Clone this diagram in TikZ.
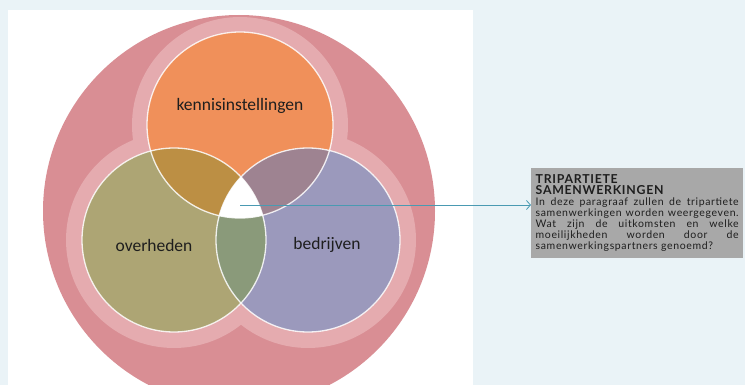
\documentclass[tikz,border=0pt]{standalone}
\usepackage{fontspec}
\setmainfont{Carlito}
\newfontfamily\boxfont[LetterSpace=6]{Lato}
\newfontfamily\titlefont[LetterSpace=6]{Lato}
\usetikzlibrary{arrows.meta}
\definecolor{bgc}{HTML}{EAF3F7}
\definecolor{bigred}{HTML}{D98E94}
\definecolor{halo}{HTML}{E5ABAF}
\definecolor{orangec}{HTML}{F0905A}
\definecolor{olivec}{HTML}{ADA574}
\definecolor{bluec}{HTML}{9B99BC}
\definecolor{ko}{HTML}{BC8F44}
\definecolor{kb}{HTML}{9E8391}
\definecolor{ob}{HTML}{8A9A7A}
\definecolor{arrowc}{HTML}{4A9AB2}
\definecolor{boxc}{HTML}{A8A8A8}
\definecolor{txt}{HTML}{1E1E1E}
\tikzset{
  label/.style={text=txt, font=\fontsize{17.5}{20}\selectfont},
  rim/.style={draw=white, line width=1.3pt, opacity=0.85},
  infobox/.style={fill=boxc, text=txt, anchor=north west, text width=203pt,
    align=justify, inner xsep=4.5pt, inner ysep=4.5pt, minimum height=90pt,
    font=\boxfont\fontsize{10.5}{11}\selectfont},
  link/.style={draw=arrowc, line width=0.8pt, -{Straight Barb[length=4pt,width=9pt]}}
}
\begin{document}
\begin{tikzpicture}[x=1pt,y=-1pt]
\useasboundingbox (0,0) rectangle (745,385);
\fill[bgc] (0,0) rectangle (745,385);
\fill[white] (8,10) rectangle (473,385);
\coordinate (K) at (240,125);
\coordinate (O) at (174,240);
\coordinate (B) at (308,240);
\begin{scope}
  \clip (8,10) rectangle (473,385);
  \fill[bigred] (239,211) circle (196pt);
  \fill[halo] (K) circle (108pt);
  \fill[halo] (O) circle (108pt);
  \fill[halo] (B) circle (108pt);
\end{scope}
\fill[orangec] (K) circle (93pt);
\fill[olivec] (O) circle (92pt);
\fill[bluec] (B) circle (92pt);
\begin{scope}
  \clip (K) circle (93pt);
  \fill[ko] (O) circle (92pt);
  \fill[kb] (B) circle (92pt);
\end{scope}
\begin{scope}
  \clip (O) circle (92pt);
  \fill[ob] (B) circle (92pt);
\end{scope}
\begin{scope}
  \clip (K) circle (93pt);
  \clip (O) circle (92pt);
  \fill[white] (B) circle (92pt);
\end{scope}
\draw[rim] (K) circle (93pt);
\draw[rim] (O) circle (92pt);
\draw[rim] (B) circle (92pt);
\node[label] (kn) at (240,106) {kennisinstellingen};
\node[label] (ov) at (154,245) {overheden};
\node[label] (bd) at (327,245) {bedrijven};
\coordinate (ctr) at (240,205);
\node[infobox] (box) at (531,168) {{\titlefont\bfseries\fontsize{12.3}{11}\selectfont TRIPARTIETE\\SAMENWERKINGEN}\\
In deze paragraaf zullen de tripartiete\linebreak
samenwerkingen worden weergegeven.\linebreak
Wat zijn de uitkomsten en welke\linebreak
moeilijkheden worden door de\linebreak
samenwerkingspartners genoemd?};
\draw[link] (ctr) -- (ctr -| box.west);
\end{tikzpicture}
\end{document}
